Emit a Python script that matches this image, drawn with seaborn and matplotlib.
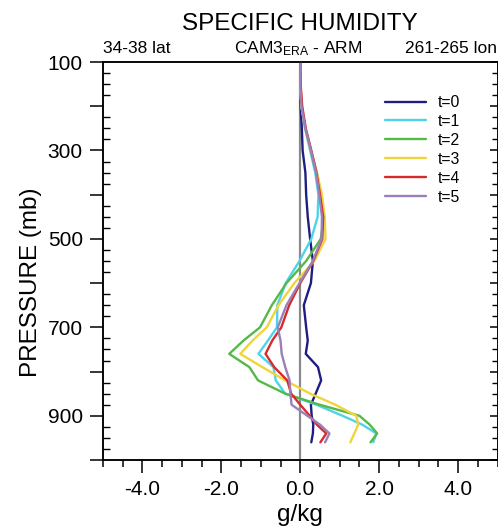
import numpy as np
import pandas as pd
import matplotlib
matplotlib.use("Agg")
import matplotlib.pyplot as plt
from matplotlib.ticker import FixedLocator, MultipleLocator, FuncFormatter
import seaborn as sns

# ---- data ----
pressure = [100, 150, 200, 250, 300, 350, 400, 450, 500, 550, 600, 650,
            700, 730, 760, 790, 820, 850, 875, 900, 920, 940, 960]
t0 = [0, 0, 0.01, 0.04, 0.06, 0.13, 0.15, 0.19, 0.25, 0.32, 0.27, 0.09,
      0.15, 0.19, 0.14, 0.45, 0.53, 0.39, 0.27, 0.29, 0.33, 0.32, 0.28]
t1 = [0, 0, 0.03, 0.12, 0.25, 0.38, 0.46, 0.44, 0.28, -0.02, -0.37, -0.58,
      -0.59, -0.82, -1.06, -0.68, -0.62, -0.38, 0.41, 1.07, 1.57, 1.93, 1.85]
t2 = [0, 0, 0.03, 0.13, 0.27, 0.42, 0.53, 0.60, 0.52, 0.15, -0.35, -0.72,
      -1.02, -1.44, -1.80, -1.29, -1.07, -0.38, 0.49, 1.50, 1.76, 1.95, 1.78]
t3 = [0, 0, 0.03, 0.13, 0.27, 0.42, 0.55, 0.62, 0.64, 0.36, -0.15, -0.55,
      -0.85, -1.21, -1.52, -0.96, -0.38, 0.25, 0.89, 1.42, 1.47, 1.37, 1.27]
t4 = [0, 0.01, 0.05, 0.14, 0.28, 0.41, 0.50, 0.58, 0.56, 0.33, 0.0, -0.28,
      -0.48, -0.71, -0.88, -0.66, -0.33, -0.23, 0.0, 0.24, 0.42, 0.66, 0.51]
t5 = [0, 0, 0.03, 0.13, 0.27, 0.40, 0.48, 0.55, 0.54, 0.32, -0.02, -0.35,
      -0.57, -0.50, -0.47, -0.38, -0.27, -0.25, -0.22, 0.18, 0.50, 0.74, 0.63]
series_labels = ["t=0", "t=1", "t=2", "t=3", "t=4", "t=5"]
series_values = [t0, t1, t2, t3, t4, t5]
colors = ["#1e1e82", "#4fd3ea", "#55b948", "#f0d43c", "#d62b2b", "#9b7fb8"]
x_ticks = [-4, -2, 0, 2, 4]
y_ticks = [100, 200, 300, 400, 500, 600, 700, 800, 900, 1000]
y_labeled = [100, 300, 500, 700, 900]

rows = []
for lab, vals in zip(series_labels, series_values):
    for p, v in zip(pressure, vals):
        rows.append({"t": lab, "p": p, "q": v})
df = pd.DataFrame(rows)

sns.set_theme(style="ticks")
plt.rcParams["font.family"] = ["Liberation Sans", "DejaVu Sans"]
plt.rcParams["mathtext.fontset"] = "custom"
plt.rcParams["mathtext.rm"] = "Liberation Sans"
plt.rcParams["mathtext.it"] = "Liberation Sans:italic"
plt.rcParams["mathtext.bf"] = "Liberation Sans:bold"
for k in ["text.color", "axes.labelcolor", "xtick.color", "ytick.color",
          "axes.edgecolor", "xtick.labelcolor", "ytick.labelcolor"]:
    plt.rcParams[k] = "black"

fig = plt.figure(figsize=(4.98, 5.30), dpi=100)
ax = fig.add_axes([103 / 498, 70 / 530, 394.5 / 498, 398 / 530])

ax.axvline(0, color="#8a8a8a", lw=1.6, zorder=1)
sns.lineplot(data=df, x="q", y="p", hue="t", palette=colors, orient="y",
             estimator=None, sort=False, linewidth=1.7, ax=ax, zorder=3)

ax.set_xlim(-5, 5)
ax.set_ylim(1000, 100)

ax.xaxis.set_major_locator(FixedLocator(x_ticks))
ax.xaxis.set_major_formatter(FuncFormatter(lambda v, pos: f"{v:.1f}"))
ax.xaxis.set_minor_locator(MultipleLocator(0.5))
ax.yaxis.set_major_locator(FixedLocator(y_ticks))
ax.yaxis.set_major_formatter(FuncFormatter(
    lambda v, pos: f"{int(round(v))}" if int(round(v)) in y_labeled else ""))
ax.yaxis.set_minor_locator(MultipleLocator(25))

ax.tick_params(axis="x", which="major", direction="out", length=9.5, width=1.1,
               labelsize=15, pad=5, color="black", labelcolor="black", top=False)
ax.tick_params(axis="x", which="minor", direction="out", length=5, width=1.1,
               top=False, color="black")
ax.tick_params(axis="y", which="major", direction="out", length=9.5, width=1.1,
               labelsize=15, pad=5, right=False, color="black", labelcolor="black")
ax.tick_params(axis="y", which="minor", direction="in", length=5, width=1.0,
               right=False, color="black")

for s in ax.spines.values():
    s.set_visible(True)
    s.set_linewidth(1.1)
    s.set_color("black")

ax2 = ax.twinx()
ax2.set_ylim(1000, 100)
ax2.yaxis.set_major_locator(FixedLocator(y_ticks))
ax2.yaxis.set_minor_locator(MultipleLocator(25))
ax2.tick_params(axis="y", which="major", direction="in", length=6, width=1.1,
                labelright=False, right=True, left=False, color="black")
ax2.tick_params(axis="y", which="minor", direction="in", length=4, width=1.0,
                right=True, left=False, color="black")
for s in ax2.spines.values():
    s.set_linewidth(1.1)
    s.set_color("black")

handles, labels = ax.get_legend_handles_labels()
ax.legend(handles, labels, loc="upper left", bbox_to_anchor=(0.715, 0.917),
          frameon=False, fontsize=11.3, handlelength=2.6, handletextpad=0.75,
          labelspacing=0.25, borderpad=0, borderaxespad=0)

ax.set_xlabel("g/kg", fontsize=17.5, color="black")
ax.xaxis.set_label_coords(0.5, -0.138)
ax.xaxis.label.set_va("center")
ax.set_ylabel("PRESSURE (mb)", fontsize=17.5, color="black")
ax.yaxis.set_label_coords(-0.183, 0.447)
ax.yaxis.label.set_va("center")

ax.text(0.5, 1.0804, "SPECIFIC HUMIDITY", transform=ax.transAxes,
        ha="center", va="baseline", fontsize=17.5, color="black")
ax.text(0.0, 1.0226, "34-38 lat", transform=ax.transAxes,
        ha="left", va="baseline", fontsize=12.5, color="black")
ax.text(0.495, 1.0226, "CAM3$_{\\mathrm{ERA}}$ - ARM", transform=ax.transAxes,
        ha="center", va="baseline", fontsize=12.5, color="black")
ax.text(0.7655, 1.0226, "261-265 lon", transform=ax.transAxes,
        ha="left", va="baseline", fontsize=12.5, color="black")

fig.savefig("out.png", dpi=100)
